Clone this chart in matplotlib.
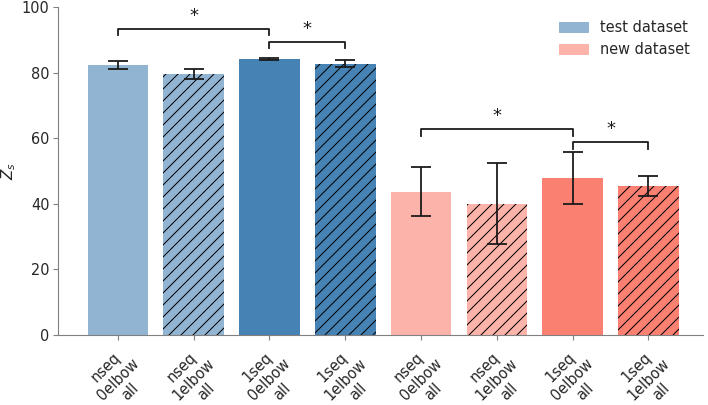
import numpy as np
import matplotlib
matplotlib.use("Agg")
import matplotlib.pyplot as plt
import matplotlib.patches as mpatches

labels = ["nseq\n0elbow\nall", "nseq\n1elbow\nall", "1seq\n0elbow\nall", "1seq\n1elbow\nall",
          "nseq\n0elbow\nall", "nseq\n1elbow\nall", "1seq\n0elbow\nall", "1seq\n1elbow\nall"]
means = [82.3, 79.6, 84.2, 82.6, 43.7, 39.9, 47.8, 45.4]
err_lo = [1.2, 1.6, 0.3, 1.0, 7.5, 12.3, 8.0, 2.9]
err_hi = [1.3, 1.5, 0.3, 1.2, 7.4, 12.4, 8.0, 3.0]
colors = ["#90b4d2", "#90b4d2", "#4682b4", "#4682b4",
          "#fcb3aa", "#fcb3aa", "#fa8072", "#fa8072"]
hatches = ["", "//", "", "//", "", "//", "", "//"]
# significance brackets: (left bar, right bar, y of bar line, tick length)
brackets = [(0, 2, 93.3, 1.9), (2, 3, 89.4, 2.0), (4, 6, 62.8, 2.0), (6, 7, 58.8, 2.2)]

DPI = 72
plt.rcParams["font.family"] = "DejaVu Sans"
plt.rcParams["hatch.linewidth"] = 1.0
fig = plt.figure(figsize=(708 / DPI, 405 / DPI), dpi=DPI)
ax = fig.add_axes([58 / 708, 70 / 405, 645 / 708, 328 / 405])

x = np.arange(len(means))
for i in x:
    ax.bar(i, means[i], width=0.8, color=colors[i], hatch=hatches[i],
           edgecolor="black" if hatches[i] else colors[i], linewidth=0)
ax.errorbar(x, means, yerr=[err_lo, err_hi], fmt="none", ecolor="#1a1a1a",
            elinewidth=1.8, capsize=10, capthick=1.8)

for a, b, y, h in brackets:
    ax.plot([a, a, b, b], [y - h, y, y, y - h], color="#1a1a1a", lw=1.8)
    ax.text((a + b) / 2, y + 1.2, "*", ha="center", va="bottom", fontsize=18, color="#1a1a1a")

ax.set_xlim(-0.79, 7.72)
ax.set_ylim(0, 100)
ax.set_yticks([0, 20, 40, 60, 80, 100])
ax.set_xticks(x)
ax.set_xticklabels(labels, rotation=45, ha="center", fontsize=14.5, color="#262626")
ax.tick_params(axis="y", labelsize=14.5, labelcolor="#262626", color="#808080",
               width=1.1, length=5)
ax.tick_params(axis="x", color="#808080", width=1.1, length=5)
ax.set_ylabel("$Z_s$", fontsize=15, color="#262626")
for s in ["top", "right"]:
    ax.spines[s].set_visible(False)
for s in ["left", "bottom"]:
    ax.spines[s].set_color("#808080")
    ax.spines[s].set_linewidth(1.1)

handles = [mpatches.Patch(color="#90b4d2", label="test dataset"),
           mpatches.Patch(color="#fcb3aa", label="new dataset")]
ax.legend(handles=handles, loc="upper right", frameon=False, fontsize=14.5,
          bbox_to_anchor=(1.0, 1.0), labelcolor="#262626")

fig.savefig("out.png", dpi=DPI)
